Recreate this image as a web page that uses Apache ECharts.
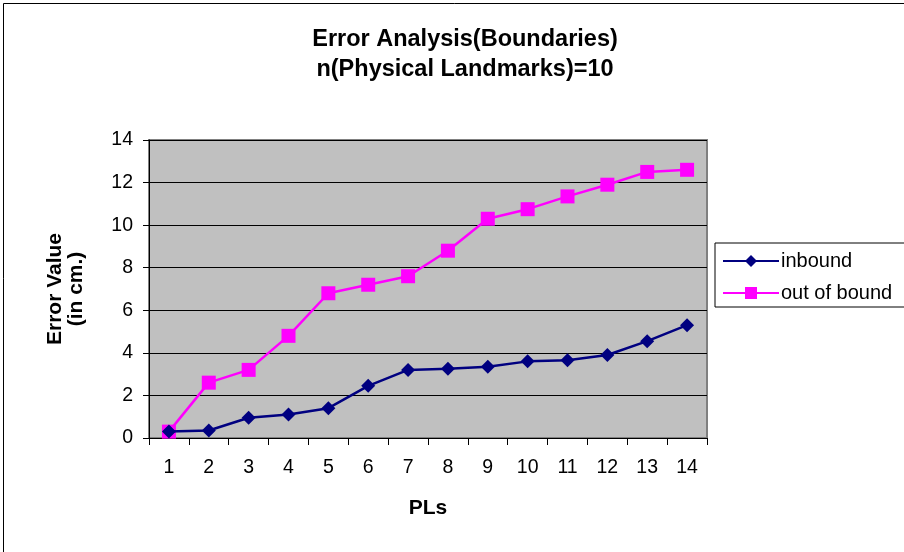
<!DOCTYPE html>
<html><head><meta charset="utf-8">
<script src="https://cdn.jsdelivr.net/npm/echarts@6/dist/echarts.min.js"></script>
<style>html,body{margin:0;padding:0;background:#fff}#c{width:904px;height:552px}</style>
</head><body><div id="c"></div>
<script>
const categories = ['1','2','3','4','5','6','7','8','9','10','11','12','13','14'];
const inbound = [0.3, 0.35, 0.95, 1.1, 1.4, 2.45, 3.2, 3.25, 3.35, 3.6, 3.65, 3.9, 4.55, 5.3];
const outOfBound = [0.3, 2.6, 3.2, 4.8, 6.8, 7.2, 7.6, 8.8, 10.3, 10.75, 11.35, 11.9, 12.5, 12.6];
const titleLines = ['Error Analysis(Boundaries)', 'n(Physical Landmarks)=10'];

const chart = echarts.init(document.getElementById('c'));
const font = 'Arial, "Liberation Sans", sans-serif';
chart.setOption({
  animation: false,
  backgroundColor: '#fff',
  title: {
    text: titleLines.join('\n'),
    left: 460, top: 20, textAlign: 'center',
    textStyle: {fontFamily: font, fontSize: 23.5, fontWeight: 'bold', color: '#000', lineHeight: 30}
  },
  graphic: [{type: 'rect', shape: {x: 3.5, y: 3.5, width: 920, height: 560},
    style: {fill: 'none', stroke: '#000', lineWidth: 1}, silent: true}],
  legend: {
    orient: 'vertical', left: 715, top: 243,
    borderColor: '#000', borderWidth: 1,
    padding: [8, 30, 4, 7],
    itemWidth: 56, itemHeight: 15, itemGap: 12,
    textStyle: {fontFamily: font, fontSize: 20, color: '#000', lineHeight: 20, padding: [0, 0, 0, -3]},
    data: ['inbound', 'out of bound']
  },
  grid: {left: 149, right: 197, top: 140, bottom: 114, show: true,
    backgroundColor: '#C0C0C0', borderColor: '#808080', borderWidth: 2},
  xAxis: {
    type: 'category', data: categories, boundaryGap: true,
    name: 'PLs', nameLocation: 'middle', nameGap: 60,
    nameTextStyle: {fontFamily: font, fontSize: 21, fontWeight: 'bold', color: '#000'},
    axisLine: {lineStyle: {color: '#000', width: 1}},
    axisTick: {show: true, length: 7, lineStyle: {color: '#000'}},
    axisLabel: {fontFamily: font, fontSize: 19.5, color: '#000', margin: 20}
  },
  yAxis: {
    type: 'value', min: 0, max: 14, interval: 2,
    name: 'Error Value\n(in cm.)', nameLocation: 'middle', nameGap: 62, nameRotate: 90,
    nameTextStyle: {fontFamily: font, fontSize: 21, fontWeight: 'bold', color: '#000', lineHeight: 21},
    axisLine: {show: true, lineStyle: {color: '#000', width: 1}},
    axisTick: {show: true, length: 6, lineStyle: {color: '#000'}},
    axisLabel: {fontFamily: font, fontSize: 19.5, color: '#000', margin: 16},
    splitLine: {show: true, lineStyle: {color: '#000', width: 1}}
  },
  series: [
    {name: 'inbound', type: 'line', data: inbound, symbol: 'diamond', symbolSize: 14,
      lineStyle: {color: '#000080', width: 2.5}, itemStyle: {color: '#000080'}, z: 3},
    {name: 'out of bound', type: 'line', data: outOfBound, symbol: 'rect', symbolSize: 14,
      lineStyle: {color: '#FF00FF', width: 2.5}, itemStyle: {color: '#FF00FF'}, z: 2}
  ]
});
</script></body></html>
